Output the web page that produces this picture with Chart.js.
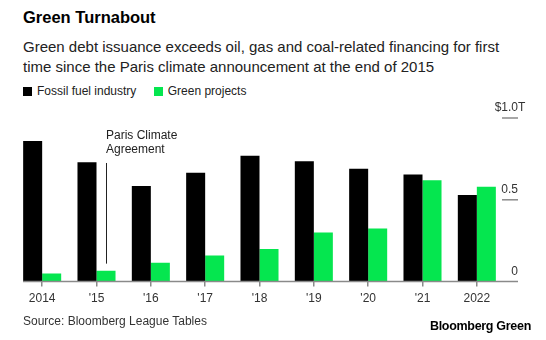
<!DOCTYPE html>
<html>
<head>
<meta charset="utf-8">
<script src="https://cdn.jsdelivr.net/npm/chart.js@4"></script>
<style>
  body { margin: 0; width: 546px; height: 340px; background: #fff; font-family: "Liberation Sans", Arial, sans-serif; color: #222; position: relative; overflow: hidden; }
  #title { position: absolute; left: 23px; top: 8px; font-size: 16.5px; font-weight: bold; color: #000; }
  #sub { position: absolute; left: 23px; top: 37px; font-size: 15px; line-height: 20px; color: #222; }
  #legend { position: absolute; left: 23px; top: 84px; font-size: 12px; color: #222; }
  #legend span.sw { display: inline-block; width: 9px; height: 9px; margin-right: 5px; vertical-align: -1px; }
  #legend span.item { margin-right: 14px; }
  #wrap { position: absolute; left: 0; top: 100px; width: 546px; height: 216px; }
  #source { position: absolute; left: 23px; top: 314px; font-size: 12px; color: #333; }
  #brand { position: absolute; right: 15px; top: 319px; font-size: 12.5px; font-weight: bold; color: #000; letter-spacing: -0.3px; }
</style>
</head>
<body>
<div id="title">Green Turnabout</div>
<div id="sub">Green debt issuance exceeds oil, gas and coal-related financing for first<br>time since the Paris climate announcement at the end of 2015</div>
<div id="legend">
  <span class="item"><span class="sw" style="background:#000"></span>Fossil fuel industry</span>
  <span class="item"><span class="sw" style="background:#05e64f"></span>Green projects</span>
</div>
<div id="wrap"><canvas id="chart" width="546" height="216"></canvas></div>
<div id="source">Source: Bloomberg League Tables</div>
<div id="brand">Bloomberg Green</div>
<script>
// issuance in trillions of dollars
const years = ['2014', "'15", "'16", "'17", "'18", "'19", "'20", "'21", '2022'];
const fossil = [0.86, 0.73, 0.585, 0.665, 0.77, 0.735, 0.69, 0.655, 0.53];
const green = [0.05, 0.067, 0.115, 0.16, 0.20, 0.30, 0.325, 0.62, 0.58];
const yTicks = [0, 0.5, 1.0];
const yTickLabels = ['0', '0.5', '$1.0'];

const BLACK = '#000000';
const GREEN = '#05e64f';

// right-hand value ticks, baseline and the Paris note
const decor = {
  id: 'decor',
  afterDatasetsDraw(chart) {
    const { ctx, chartArea, scales } = chart;
    const y = scales.y;
    const x0 = y.getPixelForValue(0);
    const right = chartArea.right + 14;

    ctx.save();
    ctx.strokeStyle = '#8a8a8a';
    ctx.lineWidth = 1.5;
    ctx.beginPath();
    ctx.moveTo(chartArea.left + 8, x0);
    ctx.lineTo(right, x0);
    ctx.stroke();

    ctx.font = '12px "Liberation Sans", Arial, sans-serif';
    ctx.fillStyle = '#333';
    ctx.textBaseline = 'bottom';
    yTicks.forEach((v, i) => {
      const py = y.getPixelForValue(v);
      if (v !== 0) {
        ctx.beginPath();
        ctx.moveTo(right - 16, py);
        ctx.lineTo(right, py);
        ctx.stroke();
      }
      ctx.textAlign = 'right';
      ctx.fillText(yTickLabels[i], right, py - 4);
      if (i === yTicks.length - 1) {
        ctx.textAlign = 'left';
        ctx.fillText('T', right, py - 4);
      }
    });

    // Paris Climate Agreement marker over the 2015 green bar
    const bar = chart.getDatasetMeta(1).data[1];
    const lx = Math.round(bar.x) + 0.5;
    ctx.strokeStyle = '#222';
    ctx.lineWidth = 1;
    ctx.beginPath();
    ctx.moveTo(lx, bar.y - 7);
    ctx.lineTo(lx, y.getPixelForValue(0.725));
    ctx.stroke();
    ctx.fillStyle = '#222';
    ctx.textAlign = 'left';
    ctx.textBaseline = 'middle';
    ctx.fillText('Paris Climate', lx - 0.5, y.getPixelForValue(0.89));
    ctx.fillText('Agreement', lx - 0.5, y.getPixelForValue(0.805));
    ctx.restore();
  }
};

new Chart(document.getElementById('chart'), {
  type: 'bar',
  data: {
    labels: years,
    datasets: [
      { label: 'Fossil fuel industry', data: fossil, backgroundColor: BLACK, borderWidth: 0 },
      { label: 'Green projects', data: green, backgroundColor: GREEN, borderWidth: 0 }
    ]
  },
  options: {
    responsive: false,
    animation: false,
    layout: { padding: { left: 15, right: 42, top: 18, bottom: 5 } },
    datasets: { bar: { categoryPercentage: 0.7, barPercentage: 1.0 } },
    plugins: { legend: { display: false }, tooltip: { enabled: false } },
    scales: {
      x: {
        grid: { display: true, drawOnChartArea: false, offset: false, tickLength: 5, color: '#8a8a8a', lineWidth: 1.5 },
        border: { display: false },
        ticks: { color: '#333', font: { family: '"Liberation Sans", Arial, sans-serif', size: 12 }, padding: 5 }
      },
      y: { display: false, min: 0, max: 1.0 }
    }
  },
  plugins: [decor]
});
</script>
</body>
</html>
